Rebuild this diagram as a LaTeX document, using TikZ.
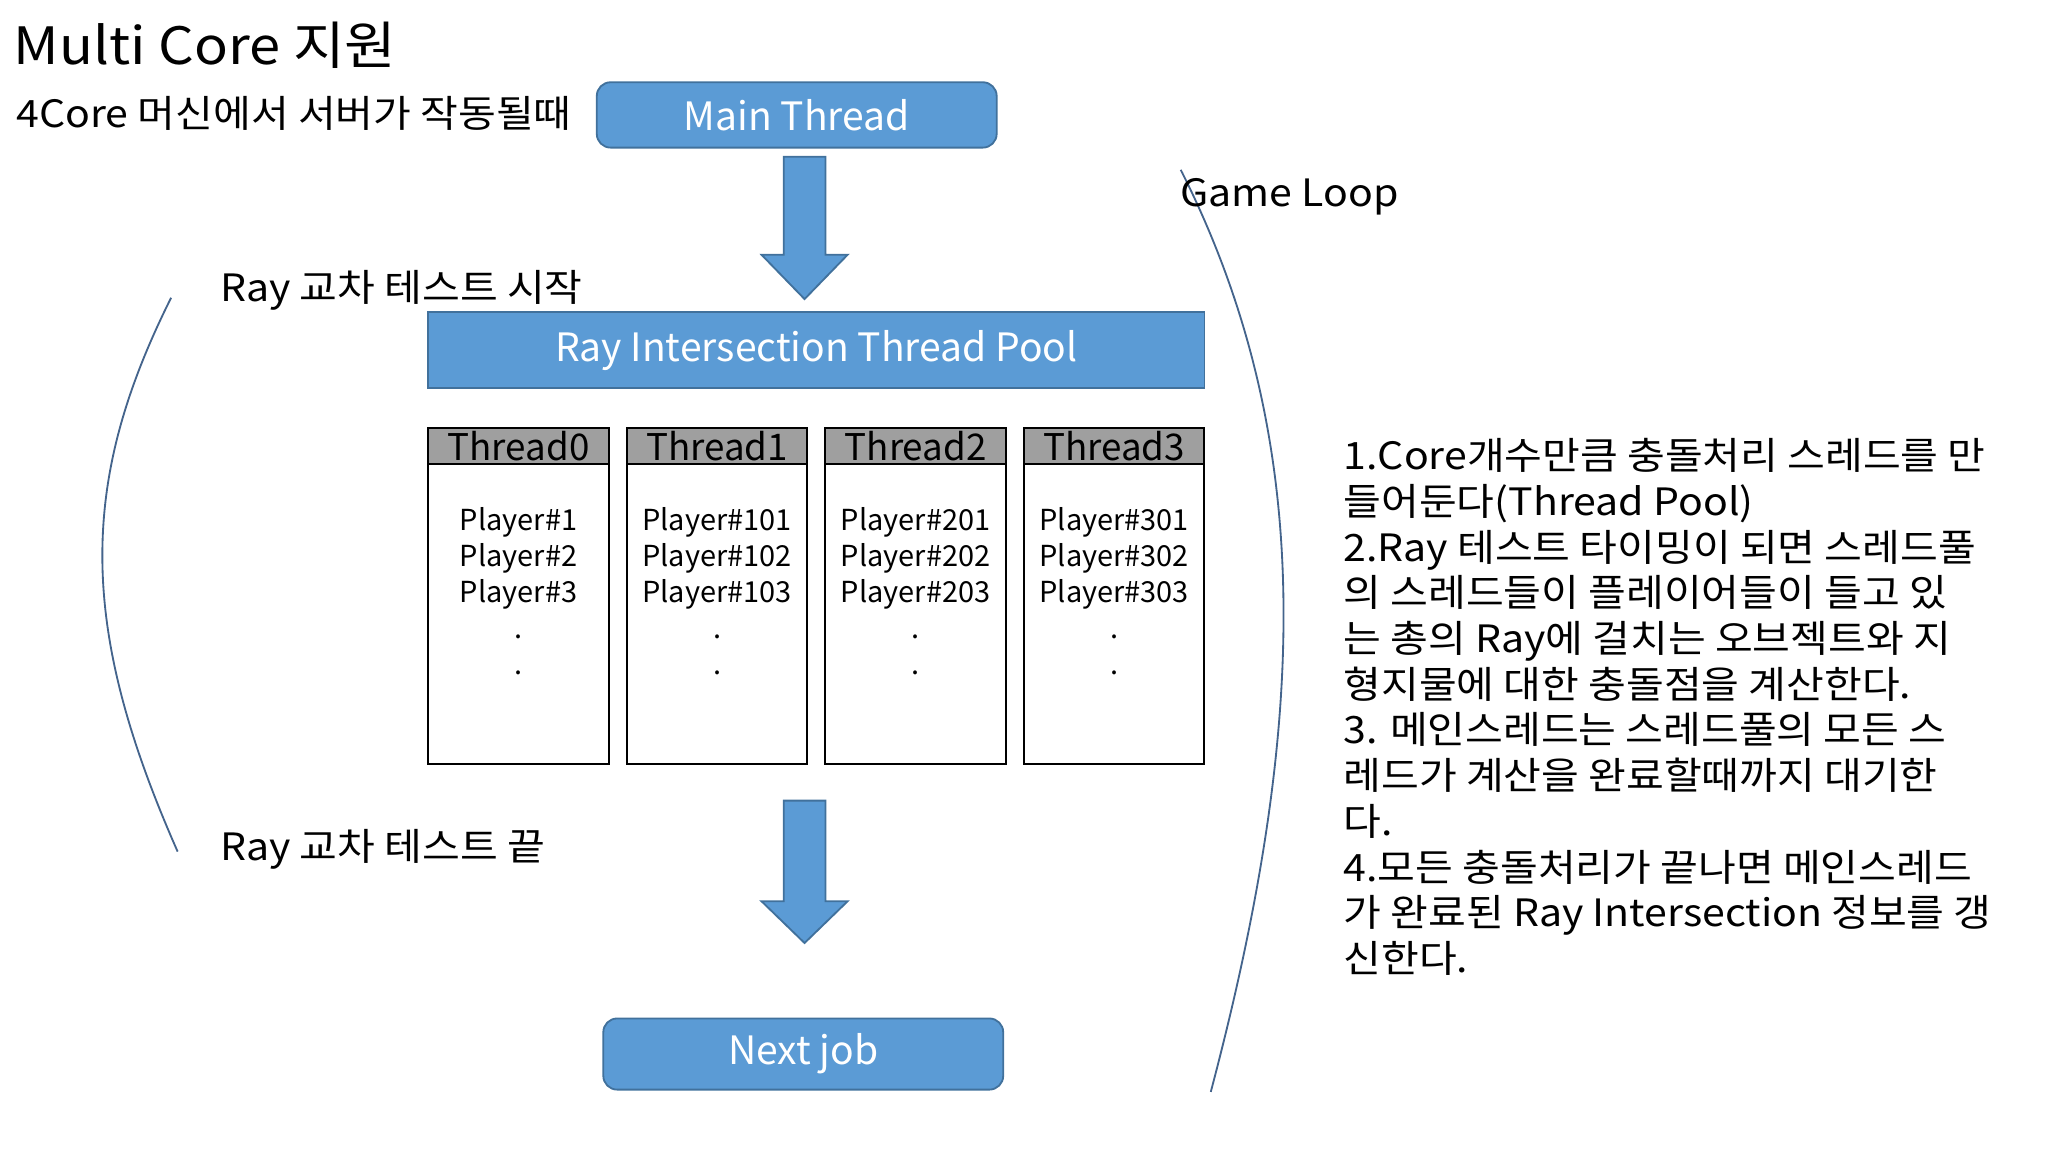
\documentclass[tikz,border=0pt]{standalone}
\usepackage{fontspec}
\setmainfont{Noto Sans CJK KR}
\newfontfamily\krwide[FakeStretch=1.09]{Noto Sans CJK KR}
\usetikzlibrary{shapes,arrows}
\definecolor{boxblue}{RGB}{91,155,213}
\definecolor{boxline}{RGB}{65,113,156}
\definecolor{curveblue}{RGB}{68,100,140}
\tikzset{
  bluebox/.style={draw=boxline,fill=boxblue,text=white,font=\fontsize{8.5}{10}\selectfont},
  bigarrow/.style={draw=boxline,fill=boxblue,line width=0.4pt},
  label/.style={anchor=west,font=\krwide\fontsize{8.2}{9}\selectfont,inner sep=0pt},
  thead/.style={draw=black,fill=gray!75,minimum width=1.38cm,minimum height=0.27cm,inner sep=0pt,font=\fontsize{8}{8}\selectfont},
  tbody/.style={draw=black,fill=white,minimum width=1.38cm,minimum height=2.30cm,inner sep=0pt}
}
\begin{document}
\begin{tikzpicture}[x=0.01cm,y=-0.01cm]
\useasboundingbox (0,0) rectangle (1568,882);
\node[anchor=west,inner sep=0pt,font=\krwide\fontsize{11.2}{13}\selectfont] (title) at (10,35) {Multi Core 지원};
\node[label] (machine) at (12,87) {4Core 머신에서 서버가 작동될때};
\node[name=main,bluebox,rounded corners=3pt,minimum width=3.06cm,minimum height=0.5cm] at (610,88) {Main Thread};
\node[name=pool,bluebox,minimum width=5.94cm,minimum height=0.58cm] at (625,268) {Ray Intersection Thread Pool};
\node[name=next,bluebox,rounded corners=3pt,minimum width=3.06cm,minimum height=0.49cm] at (615,807) {Next job};
% down arrows
\draw[bigarrow] (600,120) -- (632,120) -- (632,195) -- (649,195) -- (616,229) -- (583,195) -- (600,195) -- cycle;
\draw[bigarrow] (600,613) -- (632,613) -- (632,690) -- (649,690) -- (616,722) -- (583,690) -- (600,690) -- cycle;
% thread columns
\foreach \i/\x/\a/\b/\c in {0/397/1/2/3,1/549/101/102/103,2/701/201/202/203,3/853/301/302/303}{
  \node[name=body\i,tbody] at (\x,470) {};
  \node[name=head\i,thead] at (\x,341.5) {Thread\i};
  \node[font=\fontsize{6.3}{7.8}\selectfont,align=center,anchor=north,inner sep=0pt] (players\i) at (\x,388) {Player\#\a\\Player\#\b\\Player\#\c\\.\\.};
}
% loop curves
\draw[curveblue,thin] (131,228) .. controls (60,370) and (60,480) .. (136,652);
\draw[curveblue,thin] (904,130) .. controls (1010,340) and (1000,560) .. (927,836);
\node[label] (start) at (168,222) {Ray 교차 테스트 시작};
\node[label] (end) at (168,650) {Ray 교차 테스트 끝};
\node[label] (loop) at (903,151) {Game Loop};
\node[anchor=north west,inner sep=0pt,align=left,font=\krwide\fontsize{8.2}{9.95}\selectfont] (notes) at (1028,335) {%
1.Core개수만큼 충돌처리 스레드를 만\\
들어둔다(Thread Pool)\\
2.Ray 테스트 타이밍이 되면 스레드풀\\
의 스레드들이 플레이어들이 들고 있\\
는 총의 Ray에 걸치는 오브젝트와 지\\
형지물에 대한 충돌점을 계산한다.\\
3. 메인스레드는 스레드풀의 모든 스\\
레드가 계산을 완료할때까지 대기한\\
다.\\
4.모든 충돌처리가 끝나면 메인스레드\\
가 완료된 Ray Intersection 정보를 갱\\
신한다.};
\end{tikzpicture}
\end{document}
